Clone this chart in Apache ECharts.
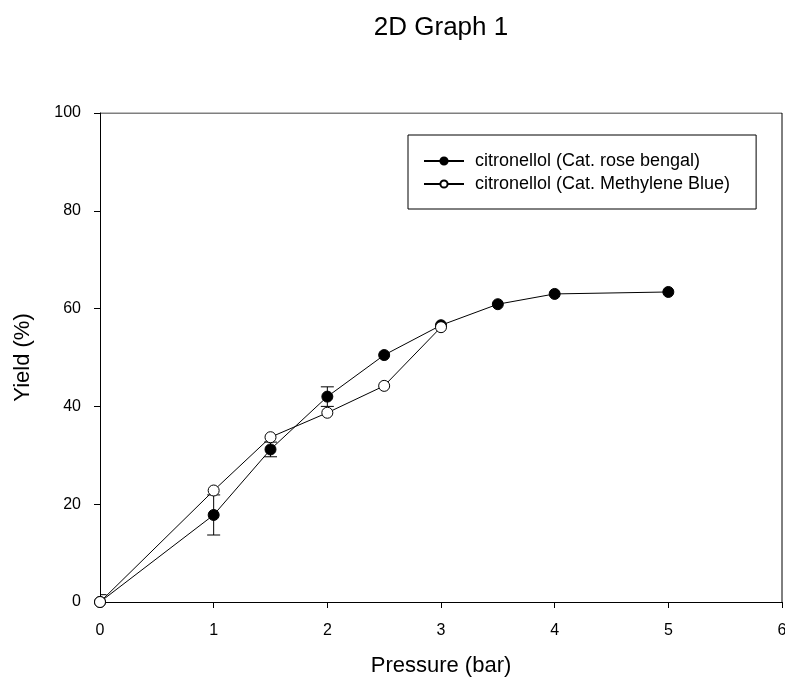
<!DOCTYPE html>
<html>
<head>
<meta charset="utf-8">
<script src="https://cdn.jsdelivr.net/npm/echarts@6/dist/echarts.min.js"></script>
<style>
    html, body { margin: 0; padding: 0; background: #fff; overflow: hidden; }
    #chart { width: 785px; height: 682px; }
</style>
</head>
<body>
<div id="chart"></div>
<script>
    // pressure (bar)
    const pressureRB = [0, 1, 1.5, 2, 2.5, 3, 3.5, 4, 5]
    const yieldRB = [0, 17.8, 31.2, 42.0, 50.5, 56.6, 60.9, 63.0, 63.4]
    const errRB = [1.5, 4.1, 1.5, 2.0, 0, 0, 0, 0, 0]

    const pressureMB = [0, 1, 1.5, 2, 2.5, 3]
    const yieldMB = [0, 22.8, 33.7, 38.7, 44.2, 56.2]

    const nameRB = 'citronellol (Cat. rose bengal)'
    const nameMB = 'citronellol (Cat. Methylene Blue)'

    const font = 'Arial, "Liberation Sans", sans-serif'

    const chart = echarts.init(document.getElementById('chart'))

    const errData = pressureRB.map((x, i) => [x, yieldRB[i] - errRB[i], yieldRB[i] + errRB[i]])
        .filter((d, i) => errRB[i] > 0)

    chart.setOption({
        animation: false,
        graphic: [{
            type: 'text',
            x: 441,
            y: 28,
            style: {
                text: '2D Graph 1',
                font: '26px ' + font,
                fill: '#000',
                textAlign: 'center',
                textVerticalAlign: 'middle'
            }
        }],
        legend: {
            orient: 'vertical',
            left: 408,
            top: 135,
            padding: [17, 26, 16, 15],
            itemGap: 5,
            itemWidth: 40,
            itemHeight: 9,
            borderColor: '#000',
            borderWidth: 1,
            textStyle: { fontFamily: font, fontSize: 18, color: '#000', padding: [0, 0, 0, 6] },
            data: [nameRB, nameMB]
        },
        grid: { left: 100, right: 3, top: 113, bottom: 80, outerBoundsMode: 'none', containLabel: false },
        xAxis: {
            type: 'value',
            min: 0, max: 6, interval: 1,
            name: 'Pressure (bar)',
            nameLocation: 'middle',
            nameGap: 53,
            nameTextStyle: { fontFamily: font, fontSize: 22, color: '#000' },
            axisLine: { show: true, onZero: false, lineStyle: { color: '#000', width: 1 } },
            axisTick: { show: true, inside: false, length: 6, lineStyle: { color: '#000' } },
            axisLabel: { fontFamily: font, fontSize: 16, color: '#000', margin: 21 },
            splitLine: { show: false }
        },
        yAxis: {
            type: 'value',
            min: 0, max: 100, interval: 20,
            name: 'Yield (%)',
            nameLocation: 'middle',
            nameGap: 66,
            nameTextStyle: { fontFamily: font, fontSize: 22, color: '#000' },
            axisLine: { show: true, onZero: false, lineStyle: { color: '#000', width: 1 } },
            axisTick: { show: true, inside: false, length: 6, lineStyle: { color: '#000' } },
            axisLabel: { fontFamily: font, fontSize: 16, color: '#000', margin: 19 },
            splitLine: { show: false }
        },
        series: [
            {
                name: nameRB,
                type: 'line',
                data: pressureRB.map((x, i) => [x, yieldRB[i]]),
                symbol: 'circle',
                symbolSize: 11,
                lineStyle: { color: '#000', width: 1 },
                itemStyle: { color: '#000', borderColor: '#000', borderWidth: 1 },
                z: 3
            },
            {
                name: nameMB,
                type: 'line',
                data: pressureMB.map((x, i) => [x, yieldMB[i]]),
                symbol: 'circle',
                symbolSize: 11,
                lineStyle: { color: '#000', width: 1 },
                itemStyle: { color: '#fff', borderColor: '#000', borderWidth: 1 },
                z: 4
            },
            {
                type: 'custom',
                name: 'errRB',
                data: errData,
                clip: true,
                z: 2,
                renderItem: function (params, api) {
                    const x = api.value(0)
                    const lo = api.coord([x, api.value(1)])
                    const hi = api.coord([x, api.value(2)])
                    const w = 6.5
                    const style = { stroke: '#000', lineWidth: 1 }
                    return {
                        type: 'group',
                        children: [
                            { type: 'line', shape: { x1: lo[0], y1: lo[1], x2: hi[0], y2: hi[1] }, style },
                            { type: 'line', shape: { x1: lo[0] - w, y1: lo[1], x2: lo[0] + w, y2: lo[1] }, style },
                            { type: 'line', shape: { x1: hi[0] - w, y1: hi[1], x2: hi[0] + w, y2: hi[1] }, style }
                        ]
                    }
                }
            },
            {
                // top and right frame lines along the axis extents
                type: 'line',
                silent: true,
                symbol: 'none',
                data: [[0, 100], [6, 100], [6, 0]],
                lineStyle: { color: '#000', width: 1 },
                z: 1
            }
        ]
    })
</script>
</body>
</html>
